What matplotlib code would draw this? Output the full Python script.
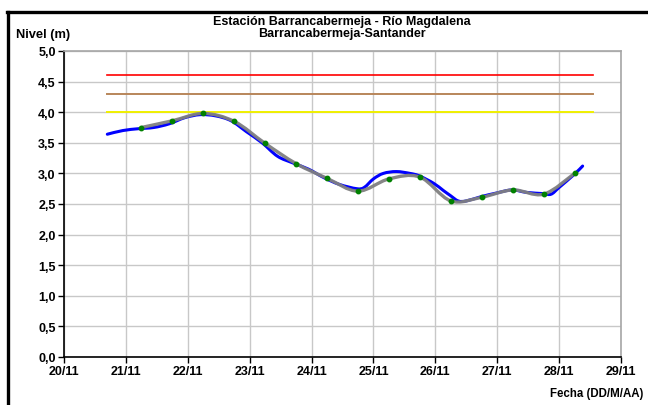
import numpy as np
import matplotlib
matplotlib.use('Agg')
import matplotlib.pyplot as plt
from matplotlib.path import Path
from matplotlib.patches import PathPatch
from matplotlib.lines import Line2D

# datos (dia de noviembre con fraccion, nivel en m)
nivel_dias = [20.70, 20.95, 21.20, 21.45, 21.70, 21.95, 22.20, 22.45, 22.70, 22.95,
              23.20, 23.45, 23.70, 23.95, 24.20, 24.45, 24.73, 24.85, 25.00, 25.16,
              25.37, 25.59, 25.74, 25.97, 26.13, 26.24, 26.37, 26.50, 26.74, 26.99,
              27.24, 27.47, 27.74, 27.87, 28.00, 28.24, 28.38]
nivel_m = [3.64, 3.70, 3.73, 3.75, 3.81, 3.91, 3.96, 3.94, 3.86, 3.68,
           3.50, 3.28, 3.17, 3.07, 2.93, 2.82, 2.75, 2.77, 2.91, 3.00,
           3.03, 3.00, 2.96, 2.84, 2.72, 2.64, 2.55, 2.55, 2.62, 2.68,
           2.73, 2.69, 2.67, 2.66, 2.77, 2.98, 3.12]

# promedios cada 12 h (puntos verdes sobre la linea gris)
prom_dias = [21.25, 21.75, 22.25, 22.75, 23.25, 23.75, 24.25, 24.75,
             25.25, 25.75, 26.25, 26.75, 27.25, 27.75, 28.25]
prom_m = [3.75, 3.86, 3.98, 3.85, 3.49, 3.16, 2.92, 2.71,
          2.91, 2.94, 2.55, 2.61, 2.73, 2.66, 3.00]

# umbrales
umbral_inicio = 20.70
umbral_fin = 28.55
umbral_roja = 4.6
umbral_naranja = 4.3
umbral_amarilla = 4.0

x_ticks = list(range(20, 30))
x_labels = ['20/11', '21/11', '22/11', '23/11', '24/11', '25/11', '26/11', '27/11', '28/11', '29/11']
y_ticks = [0.0, 0.5, 1.0, 1.5, 2.0, 2.5, 3.0, 3.5, 4.0, 4.5, 5.0]
y_labels = ['0,0', '0,5', '1,0', '1,5', '2,0', '2,5', '3,0', '3,5', '4,0', '4,5', '5,0']


def linea_suave(x, y):
    # curva suavizada tipo Excel (Catmull-Rom -> Bezier)
    x = np.asarray(x, float)
    y = np.asarray(y, float)
    pts = np.column_stack([x, y])
    verts = [pts[0]]
    codes = [Path.MOVETO]
    n = len(pts)
    for i in range(n - 1):
        p0 = pts[i - 1] if i > 0 else pts[i]
        p1 = pts[i]
        p2 = pts[i + 1]
        p3 = pts[i + 2] if i + 2 < n else pts[i + 1]
        c1 = p1 + (p2 - p0) / 6.0
        c2 = p2 - (p3 - p1) / 6.0
        verts += [c1, c2, p2]
        codes += [Path.CURVE4] * 3
    return Path(verts, codes)


plt.rcParams['font.family'] = ['Liberation Sans', 'DejaVu Sans']
plt.rcParams['font.weight'] = 'bold'

fig = plt.figure(figsize=(6.48, 4.06), dpi=100)
ax = fig.add_axes([64 / 648, 48 / 406, 557 / 648, 306 / 406])

ax.set_xlim(20, 29)
ax.set_ylim(0, 5)
ax.set_xticks(x_ticks)
ax.set_xticklabels(x_labels, fontsize=9, fontweight='bold')
ax.set_yticks(y_ticks)
ax.set_yticklabels(y_labels, fontsize=9, fontweight='bold')
ax.tick_params(direction='out', length=4, width=1, color='black', pad=2)
ax.grid(True, color='#c8c8c8', lw=1)
ax.set_axisbelow(True)
ax.spines['left'].set_color('black')
ax.spines['bottom'].set_color('black')
ax.spines['top'].set_color('#a6a6a6')
ax.spines['right'].set_color('#a6a6a6')
for s in ax.spines.values():
    s.set_linewidth(1.2)

# umbrales
ax.plot([umbral_inicio, umbral_fin], [umbral_roja] * 2, color='#ff0000', lw=1.2)
ax.plot([umbral_inicio, umbral_fin], [umbral_naranja] * 2, color='#b8865a', lw=1.4)
ax.plot([umbral_inicio, umbral_fin], [umbral_amarilla] * 2, color='#f0f000', lw=1.4)

# nivel horario (azul) y curva de tendencia (gris)
ax.add_patch(PathPatch(linea_suave(nivel_dias, nivel_m), facecolor='none',
                       edgecolor='#0000ff', lw=2.2, capstyle='round', zorder=3))
ax.add_patch(PathPatch(linea_suave(prom_dias, prom_m), facecolor='none',
                       edgecolor='#808080', lw=2.4, alpha=0.95, capstyle='round', zorder=4))
ax.plot(prom_dias, prom_m, 'o', color='#008000', ms=3.2, mec='#008000', zorder=5)

fig.text(342 / 648, 1 - 22 / 406, 'Estación Barrancabermeja - Río Magdalena',
         ha='center', va='center', fontsize=9, fontweight='bold')
fig.text(342 / 648, 1 - 34 / 406, 'Barrancabermeja-Santander',
         ha='center', va='center', fontsize=9, fontweight='bold')
fig.text(16 / 648, 1 - 35 / 406, 'Nivel (m)', ha='left', va='center',
         fontsize=9.3, fontweight='bold')
fig.text(643 / 648, 1 - 394 / 406, 'Fecha (DD/M/AA)', ha='right', va='center',
         fontsize=8.3, fontweight='bold')

# marco exterior del grafico
fig.add_artist(Line2D([8 / 648, 8 / 648], [0, 1 - 13 / 406], transform=fig.transFigure,
                      color='black', lw=2.4))
fig.add_artist(Line2D([7 / 648, 1], [1 - 13 / 406, 1 - 13 / 406], transform=fig.transFigure,
                      color='black', lw=2.4))

fig.savefig('out.png', dpi=100)
